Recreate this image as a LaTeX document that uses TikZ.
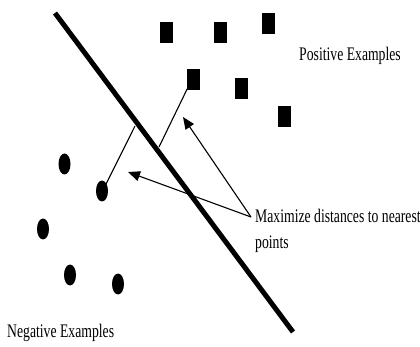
\documentclass[tikz,border=0pt]{standalone}
\usepackage{fontspec}
\setmainfont{Liberation Serif}
\usetikzlibrary{shapes.geometric,arrows.meta}
\begin{document}
\begin{tikzpicture}[x=1pt,y=-1pt,
  posbox/.style={rectangle,fill=black,draw=none,minimum width=13pt,minimum height=21pt,inner sep=0pt},
  negdot/.style={ellipse,fill=black,draw=none,minimum width=12pt,minimum height=21pt,inner sep=0pt},
  lbl/.style={anchor=base west,inner sep=0pt,font=\fontsize{13.7}{16}\selectfont},
  distline/.style={line width=1.1pt},
  arr/.style={line width=1.1pt,-{Triangle[length=12pt,width=10pt]}}]
\useasboundingbox (0,0) rectangle (420,347);
% separating line
\coordinate (h1) at (55,13);
\coordinate (h2) at (293,332);
\draw[line width=5pt] (h1) -- (h2);
% positive examples
\node[posbox] (s1) at (166,33) {};
\node[posbox] (s2) at (220,33) {};
\node[posbox] (s3) at (268,24) {};
\node[posbox] (s4) at (193,80) {};
\node[posbox] (s5) at (241,89) {};
\node[posbox] (s6) at (284,117) {};
% negative examples
\node[negdot] (c1) at (64.5,164) {};
\node[negdot] (c2) at (102,191) {};
\node[negdot] (c3) at (43,229) {};
\node[negdot] (c4) at (70,275) {};
\node[negdot] (c5) at (118,284) {};
% distance lines
\coordinate (p1) at (159,147);
\coordinate (p2) at (135,126);
\draw[distline] (s4.south west) ++(1,-2) -- (p1);
\draw[distline] (c2.north east) ++(-1,2) -- (p2);
% labels
\node[lbl] (posl) at (299,61) {\scalebox{1}[1.4]{Positive Examples}};
\node[lbl] (negl) at (7,337) {\scalebox{1}[1.4]{Negative Examples}};
\node[lbl] (max1) at (255,223) {\scalebox{1}[1.4]{Maximize distances to nearest}};
\node[lbl] (max2) at (255,249) {\scalebox{1}[1.4]{points}};
% arrows
\coordinate (src) at (251,217);
\coordinate (t1) at (128,172);
\coordinate (t2) at (183,117);
\draw[arr] (src) -- (t1);
\draw[arr] (src) -- (t2);
\end{tikzpicture}
\end{document}
